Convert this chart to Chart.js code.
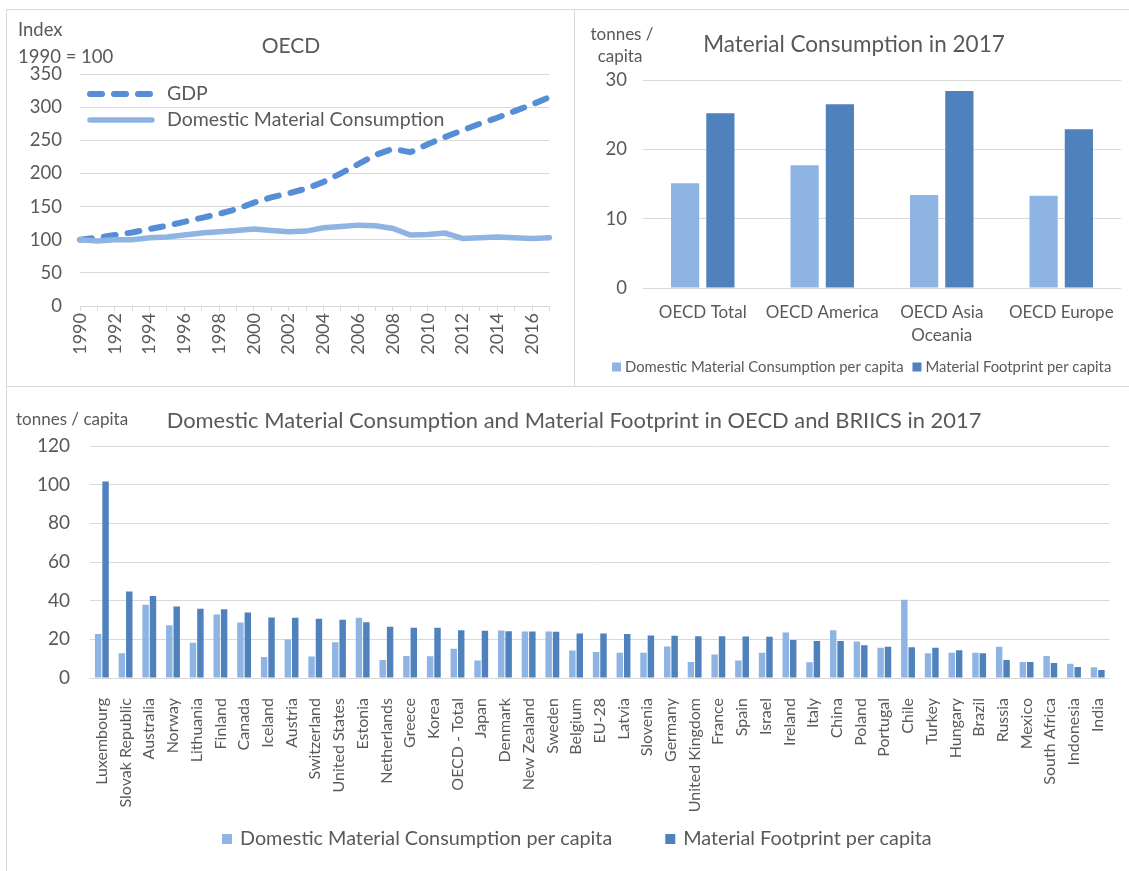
<!DOCTYPE html>
<html><head><meta charset="utf-8">
<script src="https://cdn.jsdelivr.net/npm/chart.js@4.4.1/dist/chart.umd.min.js"></script>
<style>
html,body{margin:0;padding:0;background:#fff;}
#wrap{position:relative;width:1129px;height:871px;overflow:hidden;background:#fff;}
canvas{position:absolute;}
.ln{position:absolute;background:#d9d9d9;}
</style></head><body>
<div id="wrap">
<div class="ln" style="left:6px;top:9px;width:1123px;height:1px"></div>
<div class="ln" style="left:6px;top:9px;width:1px;height:862px"></div>
<div class="ln" style="left:574px;top:9px;width:1px;height:377px"></div>
<div class="ln" style="left:6px;top:386px;width:1123px;height:1px"></div>
<canvas id="c1" width="566" height="376" style="left:7px;top:10px"></canvas>
<canvas id="c2" width="554" height="376" style="left:575px;top:10px"></canvas>
<canvas id="c3" width="1122" height="484" style="left:7px;top:387px"></canvas>
</div>
<script>
// ---------- data ----------
const years = ['1990','1991','1992','1993','1994','1995','1996','1997','1998','1999','2000','2001','2002','2003','2004','2005','2006','2007','2008','2009','2010','2011','2012','2013','2014','2015','2016','2017'];
const gdpIndex = [100,103,107,111,116,121,127,133,139,146,156,164,170,177,187,200,214,228,237,232,244,255,265,275,284,294,304,315];
const dmcIndex = [100,98,100,100,103,104,107,110,112,114,116,114,112,113,118,120,122,121,117,107,108,110,102,103,104,103,102,103];

const regions = ['OECD Total','OECD America',['OECD Asia','Oceania'],'OECD Europe'];
const dmcRegion = [15.1,17.7,13.4,13.3];
const mfRegion = [25.2,26.5,28.4,22.9];

const countries = ['Luxembourg','Slovak Republic','Australia','Norway','Lithuania','Finland','Canada','Iceland','Austria','Switzerland','United States','Estonia','Netherlands','Greece','Korea','OECD - Total','Japan','Denmark','New Zealand','Sweden','Belgium','EU-28','Latvia','Slovenia','Germany','United Kingdom','France','Spain','Israel','Ireland','Italy','China','Poland','Portugal','Chile','Turkey','Hungary','Brazil','Russia','Mexico','South Africa','Indonesia','India'];
const dmcCountry = [22.8,12.8,37.9,27.3,18.2,32.9,28.7,10.9,19.9,11.1,18.5,31.1,9.3,11.4,11.2,15.1,9.0,24.6,24.0,24.0,14.2,13.5,13.1,13.1,16.3,8.3,12.1,9.0,13.1,23.5,8.1,24.7,18.9,15.7,40.5,12.8,13.1,13.0,16.1,8.3,11.4,7.4,5.5];
const mfCountry = [101.6,44.8,42.4,37.0,35.8,35.6,33.9,31.3,31.1,30.6,30.1,28.9,26.5,26.0,26.0,24.7,24.4,24.2,24.0,23.9,23.0,23.0,22.7,22.0,21.8,21.6,21.6,21.5,21.3,19.6,19.2,19.2,17.0,16.1,15.9,15.6,14.4,12.8,9.3,8.3,7.8,5.7,4.2];

const indexTicks = [0,50,100,150,200,250,300,350];
const regionTicks = [0,10,20,30];
const countryTicks = [0,20,40,60,80,100,120];

// ---------- styles ----------
const TXT = '#595959', GRID = '#d9d9d9';
const LIGHT = '#8EB4E3', DARK = '#4F81BD', GDPC = '#558ED5';
Chart.defaults.font.family = 'Lato';
Chart.defaults.color = TXT;

// free text (titles, unit captions)
const captions = {
  id: 'captions',
  afterDraw(chart, args, opts) {
    const ctx = chart.ctx; ctx.save();
    (opts.items || []).forEach(it => {
      ctx.font = it.size + 'px Lato';
      ctx.fillStyle = TXT;
      ctx.textAlign = it.align || 'left';
      ctx.textBaseline = 'middle';
      ctx.fillText(it.text, it.x, it.y);
    });
    ctx.restore();
  }
};

// legend drawn inside the plot area of the line chart
const lineLegend = {
  id: 'lineLegend',
  afterDatasetsDraw(chart, args, opts) {
    const {ctx, chartArea} = chart; ctx.save();
    chart.data.datasets.forEach((ds, i) => {
      const y = chartArea.top + opts.top + i * opts.spacing;
      const x0 = chartArea.left + opts.left;
      ctx.beginPath();
      ctx.strokeStyle = ds.borderColor; ctx.lineWidth = ds.borderWidth;
      ctx.lineCap = ds.borderCapStyle || 'butt';
      ctx.setLineDash(ds.borderDash || []);
      ctx.moveTo(x0, y); ctx.lineTo(x0 + opts.length, y); ctx.stroke();
      ctx.setLineDash([]);
      ctx.fillStyle = TXT; ctx.font = opts.size + 'px Lato';
      ctx.textAlign = 'left'; ctx.textBaseline = 'middle';
      ctx.fillText(ds.label, chartArea.left + opts.textLeft, y);
    });
    ctx.restore();
  }
};

// square-swatch legend for the bar charts
const barLegend = {
  id: 'barLegend',
  afterDraw(chart, args, opts) {
    const ctx = chart.ctx; ctx.save();
    ctx.font = opts.size + 'px Lato'; ctx.textBaseline = 'middle'; ctx.textAlign = 'left';
    let x = opts.x;
    chart.data.datasets.forEach(ds => {
      ctx.fillStyle = ds.backgroundColor;
      ctx.fillRect(x, opts.y - opts.box / 2, opts.box, opts.box);
      ctx.fillStyle = TXT;
      ctx.fillText(ds.label, x + opts.textGap, opts.y);
      x += opts.textGap + ctx.measureText(ds.label).width + opts.itemGap;
    });
    ctx.restore();
  }
};

function fixed(tickVals) {
  return function(scale) { scale.ticks = tickVals.map(v => ({value: v})); };
}

// ---------- chart 1 ----------
new Chart(document.getElementById('c1'), {
  type: 'line',
  data: {
    labels: years,
    datasets: [
      {label: 'GDP', data: gdpIndex, borderColor: GDPC, borderWidth: 6, borderDash: [12, 12], borderCapStyle: 'round', pointRadius: 0, tension: 0, order: 1},
      {label: 'Domestic Material Consumption', data: dmcIndex, borderColor: LIGHT, borderWidth: 5.5, borderCapStyle: 'round', pointRadius: 0, tension: 0, order: 0}
    ]
  },
  options: {
    responsive: false, animation: false, devicePixelRatio: 1,
    layout: {padding: {left: 0, right: 20, top: 64, bottom: 0}},
    plugins: {
      legend: {display: false}, tooltip: {enabled: false}, title: {display: false},
      captions: {items: [
        {text: 'OECD', x: 284, y: 36.5, size: 21, align: 'center'},
        {text: 'Index', x: 11, y: 20, size: 18.5},
        {text: '1990 = 100', x: 11, y: 47, size: 18.5}
      ]},
      lineLegend: {left: 10, length: 62, textLeft: 87, top: 20, spacing: 26, size: 19.5}
    },
    scales: {
      x: {
        afterFit(s) { s.height = 80; },
        grid: {drawOnChartArea: false, drawTicks: true, tickLength: 5, color: GRID},
        border: {display: true, color: GRID},
        ticks: {autoSkip: false, minRotation: 90, maxRotation: 90, padding: 2, font: {size: 18},
          callback: (v, i) => (i % 2 === 0 ? years[i] : '')}
      },
      y: {
        min: 0, max: 350,
        afterFit(s) { s.width = 73; },
        afterBuildTicks: fixed(indexTicks),
        grid: {color: GRID, drawTicks: false},
        border: {display: false},
        ticks: {padding: 18, font: {size: 18.5}}
      }
    }
  },
  plugins: [captions, lineLegend]
});

// ---------- chart 2 ----------
new Chart(document.getElementById('c2'), {
  type: 'bar',
  data: {
    labels: regions,
    datasets: [
      {label: 'Domestic Material Consumption per capita', data: dmcRegion, backgroundColor: LIGHT, borderWidth: 0, categoryPercentage: 0.59, barPercentage: 0.8},
      {label: 'Material Footprint per capita', data: mfRegion, backgroundColor: DARK, borderWidth: 0, categoryPercentage: 0.59, barPercentage: 0.8}
    ]
  },
  options: {
    responsive: false, animation: false, devicePixelRatio: 1,
    layout: {padding: {left: 0, right: 8, top: 70, bottom: 23}},
    plugins: {
      tooltip: {enabled: false}, legend: {display: false}, title: {display: false},
      captions: {items: [
        {text: 'Material Consumption in 2017', x: 279, y: 35, size: 22.5, align: 'center'},
        {text: 'tonnes /', x: 47, y: 25, size: 17, align: 'center'},
        {text: 'capita', x: 45, y: 47, size: 17, align: 'center'}
      ]},
      barLegend: {x: 37, y: 357, box: 9, textGap: 13, itemGap: 9, size: 14.8}
    },
    scales: {
      x: {
        afterFit(s) { s.height = 75; },
        grid: {display: false}, border: {display: false},
        ticks: {padding: 5, maxRotation: 0, autoSkip: false, font: {size: 17, lineHeight: 1.35}}
      },
      y: {
        min: 0, max: 30,
        afterFit(s) { s.width = 68; },
        afterBuildTicks: fixed(regionTicks),
        grid: {color: GRID, drawTicks: false},
        border: {display: false},
        ticks: {padding: 16, font: {size: 18.5}}
      }
    }
  },
  plugins: [captions, barLegend]
});

// ---------- chart 3 ----------
new Chart(document.getElementById('c3'), {
  type: 'bar',
  data: {
    labels: countries,
    datasets: [
      {label: 'Domestic Material Consumption per capita', data: dmcCountry, backgroundColor: LIGHT, borderWidth: 0, categoryPercentage: 0.625, barPercentage: 0.87},
      {label: 'Material Footprint per capita', data: mfCountry, backgroundColor: DARK, borderWidth: 0, categoryPercentage: 0.625, barPercentage: 0.87}
    ]
  },
  options: {
    responsive: false, animation: false, devicePixelRatio: 1,
    layout: {padding: {left: 0, right: 7, top: 59, bottom: 53}},
    plugins: {
      tooltip: {enabled: false}, legend: {display: false}, title: {display: false},
      captions: {items: [
        {text: 'Domestic Material Consumption and Material Footprint in OECD and BRIICS in 2017', x: 567, y: 34, size: 21.9, align: 'center'},
        {text: 'tonnes / capita', x: 9, y: 33, size: 17}
      ]},
      barLegend: {x: 215, y: 452, box: 10, textGap: 18, itemGap: 53, size: 19.8}
    },
    scales: {
      x: {
        afterFit(s) { s.height = 140; },
        grid: {display: false}, border: {display: false},
        ticks: {autoSkip: false, minRotation: 90, maxRotation: 90, padding: 12, font: {size: 16}}
      },
      y: {
        min: 0, max: 120,
        afterFit(s) { s.width = 83; },
        afterBuildTicks: fixed(countryTicks),
        grid: {color: GRID, drawTicks: false},
        border: {display: false},
        ticks: {padding: 20, font: {size: 19}}
      }
    }
  },
  plugins: [captions, barLegend]
});
</script>
</body></html>
